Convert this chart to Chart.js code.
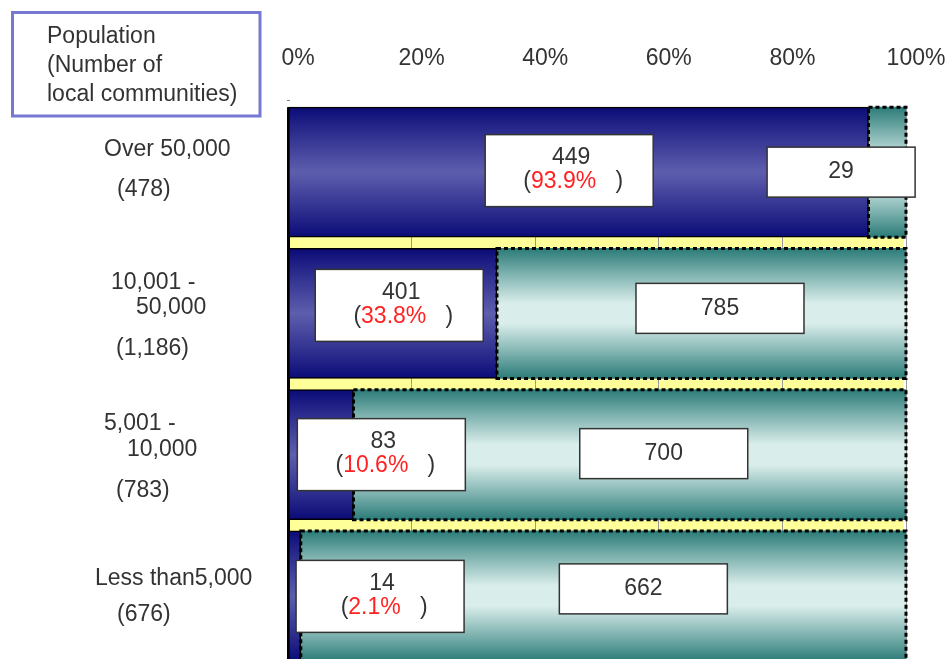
<!DOCTYPE html>
<html>
<head>
<meta charset="utf-8">
<script src="https://cdn.jsdelivr.net/npm/chart.js@4/dist/chart.umd.min.js"></script>
<style>
  html, body { margin: 0; padding: 0; background: #fff; overflow: hidden; }
  #wrap { position: relative; width: 951px; height: 680px; }
</style>
</head>
<body>
<div id="wrap"><canvas id="c"></canvas></div>
<script>
// ---- data ----
const categoryLines = [['Over 50,000'], ['10,001 -', '50,000'], ['5,001 -', '10,000'], ['Less than5,000']];
const totals = [478, 1186, 783, 676];
const withCount = [449, 401, 83, 14];
const withoutCount = [29, 785, 700, 662];
const sharePct = ['93.9%', '33.8%', '10.6%', '2.1%'];
const tickLabels = ['0%', '20%', '40%', '60%', '80%', '100%'];
const headerLines = ['Population', '(Number of', 'local communities)'];

// ---- layout (positions only) ----
const blueBoxAt = [45.5, 18.0, 15.1, 14.9];   // % along the axis
const tealBoxAt = [89.5, 69.9, 60.8, 57.5];
const blueBoxDy = [-1.5, -8, 0, 0.5];
const tealBoxDy = [0, -5, -1, -7];
const tealBoxW = [148, 168, 168, 168];
const labelX = [[104, 117], [111, 136, 116], [104, 127, 116], [95, 117]];
const labelDy = [[-22, 18], [-31, -6, 35], [-31, -5, 36], [-17, 19]];

const FONT = '23px "Liberation Sans", Arial, sans-serif';
const TXT = '#333333';
const BAR_T = 130;

const blueVals = withCount.map((v, i) => v / totals[i] * 100);
const tealVals = withoutCount.map((v, i) => v / totals[i] * 100);

function grad(ctx, stops, fallback) {
  const chart = ctx.chart;
  if (!chart.chartArea || ctx.type !== 'data') return fallback;
  const y = chart.scales.y.getPixelForValue(ctx.dataIndex);
  const g = chart.ctx.createLinearGradient(0, y - BAR_T / 2, 0, y + BAR_T / 2);
  stops.forEach(s => g.addColorStop(s[0], s[1]));
  return g;
}
const blueStops = [[0, '#0b0b78'], [0.18, '#2a2a8c'], [0.5, '#5e5eae'], [0.82, '#2a2a8c'], [1, '#0b0b78']];
const tealStops = [[0, '#2b7b78'], [0.2, '#7fb3b0'], [0.42, '#d9edea'], [0.58, '#d9edea'], [0.8, '#7fb3b0'], [1, '#2b7b78']];

const decor = {
  id: 'decor',
  beforeDraw(chart) {
    const { ctx, chartArea: a } = chart;
    const gap = (a.bottom - a.top) / categoryLines.length - BAR_T;
    ctx.save();
    ctx.fillStyle = '#ffff99';
    ctx.fillRect(a.left, a.top + gap / 2, a.right - a.left - 2, a.bottom - a.top);
    ctx.restore();
  },
  beforeDatasetsDraw(chart) {
    const { ctx, chartArea: a } = chart;
    const gap = (a.bottom - a.top) / categoryLines.length - BAR_T;
    ctx.save();
    ctx.fillStyle = '#ffffff';
    ctx.fillRect(a.left - 6, a.top - 1, a.right - a.left + 12, gap / 2 + 1);
    ctx.restore();
  },
  afterDatasetsDraw(chart) {
    const { ctx } = chart;
    const xs = chart.scales.x, ys = chart.scales.y;
    ctx.save();
    // dashed outlines of the teal segments
    chart.getDatasetMeta(1).data.forEach(el => {
      const p = el.getProps(['x', 'y', 'base', 'height'], true);
      ctx.strokeStyle = '#000';
      ctx.lineWidth = 3;
      ctx.setLineDash([4, 3]);
      ctx.strokeRect(Math.min(p.x, p.base), p.y - p.height / 2, Math.abs(p.x - p.base), p.height);
    });
    ctx.setLineDash([]);
    // value boxes
    ctx.font = FONT;
    ctx.textBaseline = 'middle';
    categoryLines.forEach((_, i) => {
      const cy = ys.getPixelForValue(i);
      // blue box
      let cx = xs.getPixelForValue(blueBoxAt[i]);
      let by = cy + blueBoxDy[i];
      ctx.fillStyle = '#fff';
      ctx.fillRect(cx - 84, by - 36, 168, 72);
      ctx.strokeStyle = '#333';
      ctx.lineWidth = 1.5;
      ctx.strokeRect(cx - 84, by - 36, 168, 72);
      ctx.fillStyle = TXT;
      ctx.textAlign = 'center';
      ctx.fillText(String(withCount[i]), cx + 2, by - 13);
      const a1 = '(', a2 = sharePct[i], a3 = '   )';
      const w1 = ctx.measureText(a1).width, w2 = ctx.measureText(a2).width, w3 = ctx.measureText(a3).width;
      let sx = cx + 4 - (w1 + w2 + w3) / 2;
      ctx.textAlign = 'left';
      ctx.fillStyle = TXT; ctx.fillText(a1, sx, by + 11);
      ctx.fillStyle = '#ff2222'; ctx.fillText(a2, sx + w1, by + 11);
      ctx.fillStyle = TXT; ctx.fillText(a3, sx + w1 + w2, by + 11);
      // teal box
      cx = xs.getPixelForValue(tealBoxAt[i]);
      by = cy + tealBoxDy[i];
      const w = tealBoxW[i];
      ctx.fillStyle = '#fff';
      ctx.fillRect(cx - w / 2, by - 25, w, 50);
      ctx.strokeStyle = '#333';
      ctx.strokeRect(cx - w / 2, by - 25, w, 50);
      ctx.fillStyle = TXT;
      ctx.textAlign = 'center';
      ctx.fillText(String(withoutCount[i]), cx, by);
    });
    // category labels on the left
    ctx.textAlign = 'left';
    ctx.fillStyle = TXT;
    categoryLines.forEach((lines, i) => {
      const cy = ys.getPixelForValue(i);
      const all = lines.concat(['(' + totals[i].toLocaleString('en-US') + ')']);
      all.forEach((t, k) => ctx.fillText(t, labelX[i][k], cy + labelDy[i][k]));
    });
    // header box
    ctx.strokeStyle = '#7777d4';
    ctx.lineWidth = 3;
    ctx.strokeRect(12.5, 12.5, 247.5, 103.5);
    ctx.fillStyle = TXT;
    headerLines.forEach((t, k) => ctx.fillText(t, 47, 37 + k * 29));
    ctx.restore();
  }
};

new Chart(document.getElementById('c'), {
  type: 'bar',
  data: {
    labels: categoryLines.map(l => l.join(' ')),
    datasets: [
      {
        label: 'With',
        data: blueVals,
        backgroundColor: c => grad(c, blueStops, '#3a3a96'),
        borderColor: '#000',
        borderWidth: 1.5,
        borderSkipped: false,
        barThickness: BAR_T
      },
      {
        label: 'Without',
        data: tealVals,
        backgroundColor: c => grad(c, tealStops, '#8cc'),
        borderWidth: 0,
        barThickness: BAR_T
      }
    ]
  },
  options: {
    indexAxis: 'y',
    responsive: true,
    maintainAspectRatio: false,
    animation: false,
    layout: { padding: { top: 0, left: 0, right: 45, bottom: 13.5 } },
    plugins: { legend: { display: false }, tooltip: { enabled: false } },
    scales: {
      x: {
        position: 'top',
        stacked: true,
        min: 0, max: 100,
        afterFit: s => { s.height = 101.5; s.paddingLeft = 0; s.paddingRight = 0; },
        afterBuildTicks: s => { s.ticks = tickLabels.map((t, k) => ({ value: k * 20 })); },
        ticks: {
          callback: (v, k) => tickLabels[k],
          font: { family: '"Liberation Sans", Arial, sans-serif', size: 23 },
          color: TXT,
          labelOffset: 10,
          padding: 29,
          maxRotation: 0
        },
        grid: { color: '#999999', lineWidth: 1, drawTicks: false },
        border: { display: false }
      },
      y: {
        stacked: true,
        afterFit: s => { s.width = 288; },
        ticks: { display: false },
        grid: { display: false, drawTicks: false },
        border: { display: true, color: '#000', width: 3 }
      }
    }
  },
  plugins: [decor]
});
</script>
</body>
</html>
